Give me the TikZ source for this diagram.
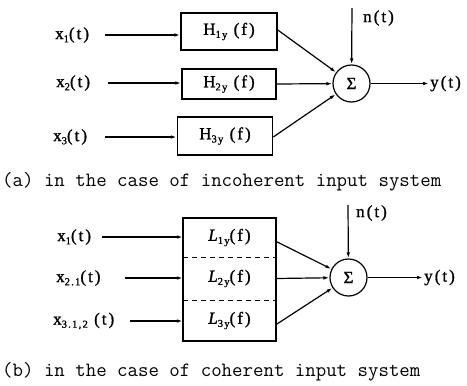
\documentclass[tikz,border=0pt]{standalone}
\usepackage{fontspec}
\newfontfamily\lblfont{Liberation Serif}[LetterSpace=12,FakeBold=1.2]
\usetikzlibrary{arrows.meta}
\newcommand{\sbs}[1]{\raisebox{-0.4ex}{\scalebox{0.62}{#1}}}
\begin{document}
\begin{tikzpicture}[x=1pt,y=-1pt,
  lbl/.style={font=\lblfont\fontsize{17}{17}\selectfont, inner sep=0pt},
  capt/.style={font=\ttfamily\fontsize{20.3}{20.3}\selectfont, inner sep=0pt, anchor=west},
  blk/.style={draw, line width=1.5pt, inner sep=0pt, font=\lblfont\fontsize{17}{17}\selectfont},
  cell/.style={inner sep=0pt, minimum width=93pt, font=\lblfont\fontsize{17}{17}\selectfont},
  sumnode/.style={draw, circle, line width=1.2pt, minimum size=37pt, inner sep=0pt, font=\lblfont\fontsize{17}{17}\selectfont},
  sig/.style={line width=1.2pt, -{Latex[length=6pt,width=3.6pt]}},
  wire/.style={line width=1.2pt}
]
\useasboundingbox (0,0) rectangle (467,386);

% ---------- (a) ----------
\node[blk, minimum width=96pt, minimum height=37pt] (H1) at (229,31.5) {H\sbs{1y} (f)};
\node[blk, minimum width=94pt, minimum height=30pt] (H2) at (229,84) {H\sbs{2y} (f)};
\node[blk, minimum width=95pt, minimum height=38pt] (H3) at (225,136) {H\sbs{3y} (f)};

\node[lbl, anchor=west] (xa1) at (55,35) {x\sbs{1}(t)};
\node[lbl, anchor=west] (xa2) at (56,83) {x\sbs{2}(t)};
\node[lbl, anchor=west] (xa3) at (53,137) {x\sbs{3}(t)};
\coordinate (sa1) at (105,35);
\coordinate (sa2) at (108,83);
\coordinate (sa3) at (105,137);
\draw[sig] (sa1) -- (sa1 -| H1.west);
\draw[sig] (sa2) -- (sa2 -| H2.west);
\draw[sig] (sa3) -- (sa3 -| H3.west);

\node[sumnode] (S1) at (351.5,83.5) {Σ};
\draw[sig] ([yshift=1.5pt]H1.east) -- (S1);
\draw[sig] (H2.east) -- (S1);
\draw[sig] ([yshift=-1pt]H3.east) -- (S1);

\coordinate (na) at (352,8);
\draw[sig] (na) -- (S1);
\node[lbl, anchor=west] (nla) at (363,18) {n(t)};
\coordinate (ya) at (429,83.5);
\draw[sig] (S1) -- (ya);
\node[lbl, anchor=west] (yla) at (430,83.5) {y(t)};

\node[capt] (ca) at (2,182) {(a) in the case of incoherent input system};

% ---------- (b) ----------
\node[cell, minimum height=39pt] (L1) at (229.5,237.5) {\itshape L\upshape\sbs{1y}(f)};
\node[cell, minimum height=43pt] (L2) at (229.5,278.5) {\itshape L\upshape\sbs{2y}(f)};
\node[cell, minimum height=41pt] (L3) at (229.5,320.5) {\itshape L\upshape\sbs{3y}(f)};
\draw[line width=1.5pt] (L1.north west) rectangle (L3.south east);
\draw[wire, dashed, dash pattern=on 5pt off 4pt] (L1.south west) -- (L1.south east);
\draw[wire, dashed, dash pattern=on 5pt off 4pt] (L2.south west) -- (L2.south east);

\node[lbl, anchor=west] (xb1) at (57,237) {x\sbs{1}(t)};
\node[lbl, anchor=west] (xb2) at (56,278) {x\sbs{2.1}(t)};
\node[lbl, anchor=west] (xb3) at (53,321) {x\sbs{3.1,2} (t)};
\coordinate (sb1) at (102,237);
\coordinate (sb2) at (125,278);
\coordinate (sb3) at (130,321);
\draw[sig] (sb1) -- (sb1 -| L1.west);
\draw[sig] (sb2) -- (sb2 -| L2.west);
\draw[sig] (sb3) -- (sb3 -| L3.west);

\node[sumnode] (S2) at (348.5,277.5) {Σ};
\draw[sig] ([yshift=-4pt]L1.east) -- (S2);
\draw[sig] (L2.east) -- (S2);
\draw[sig] ([yshift=-4pt]L3.east) -- (S2);

\coordinate (nb) at (348,205);
\draw[sig] (nb) -- (S2);
\node[lbl, anchor=west] (nlb) at (356,213) {n(t)};
\coordinate (yb) at (423,277.5);
\draw[sig] (S2) -- (yb);
\node[lbl, anchor=west] (ylb) at (424,277.5) {y(t)};

\node[capt] (cb) at (2,372) {(b) in the case of coherent input system};
\end{tikzpicture}
\end{document}
